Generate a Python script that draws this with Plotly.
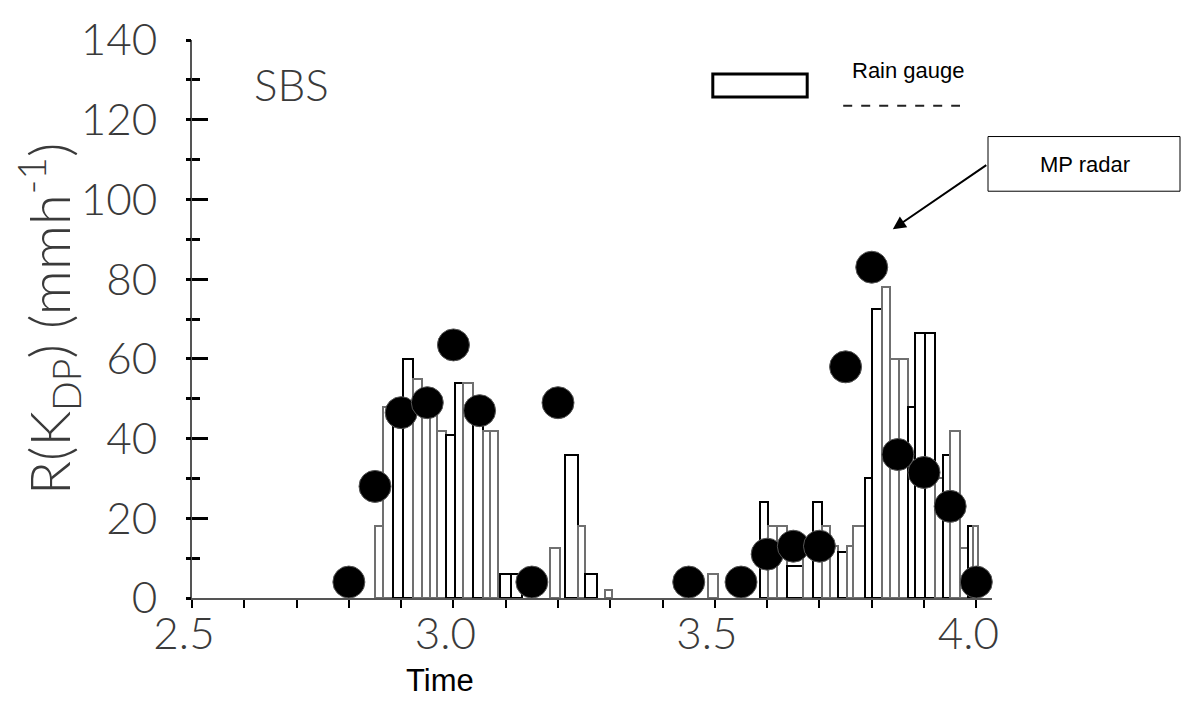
import plotly.graph_objects as go

# ---- data ----
radar_time = [2.80, 2.85, 2.90, 2.95, 3.00, 3.05, 3.15, 3.20, 3.45, 3.55,
              3.60, 3.65, 3.70, 3.75, 3.80, 3.85, 3.90, 3.95, 4.00]
radar_rate = [4, 28, 46.5, 49, 63.5, 47, 4, 49, 4, 4,
              11, 13, 13, 58, 83, 36, 31.5, 23, 4]

gauge_start = [2.850, 2.865, 2.884, 2.903, 2.923, 2.940, 2.955, 2.968, 2.986, 3.003,
               3.018, 3.037, 3.056, 3.070, 3.089, 3.110, 3.185, 3.213, 3.238, 3.251,
               3.290, 3.487, 3.586, 3.601, 3.619, 3.638, 3.668, 3.687, 3.705, 3.720,
               3.735, 3.752, 3.764, 3.787, 3.800, 3.819, 3.835, 3.852, 3.869, 3.882,
               3.902, 3.921, 3.936, 3.949, 3.968, 3.984, 3.993]
gauge_end = [2.865, 2.884, 2.903, 2.923, 2.940, 2.955, 2.968, 2.986, 3.003, 3.018,
             3.037, 3.056, 3.070, 3.085, 3.110, 3.131, 3.204, 3.238, 3.251, 3.274,
             3.303, 3.506, 3.601, 3.619, 3.638, 3.668, 3.687, 3.705, 3.720, 3.735,
             3.752, 3.764, 3.787, 3.800, 3.819, 3.835, 3.852, 3.869, 3.882, 3.902,
             3.921, 3.936, 3.949, 3.968, 3.984, 3.993, 4.003]
gauge_rate = [18, 48, 45, 60, 55, 50, 48, 42, 41, 54,
              54, 46, 42, 42, 6, 6, 12.5, 36, 18, 6,
              2, 6, 24, 18, 18, 8, 12, 24, 18, 13,
              11.5, 13, 18, 30, 72.5, 78, 60, 60, 48, 66.5,
              66.5, 30, 36, 42, 12.5, 18, 18]
gauge_id = ["B", "B", "A", "A", "B", "B", "B", "B", "A", "A",
            "B", "A", "B", "B", "A", "A", "B", "A", "B", "A",
            "B", "B", "A", "B", "B", "A", "B", "A", "B", "B",
            "A", "B", "B", "A", "A", "B", "B", "B", "A", "A",
            "A", "B", "A", "B", "B", "A", "B"]

x_ticks = [2.5, 3.0, 3.5, 4.0]
x_ticklabels = ["2.5", "3.0", "3.5", "4.0"]
y_ticks = [0, 20, 40, 60, 80, 100, 120, 140]

edge_colors = {"A": "#000000", "B": "#707070"}

centers = [(s + e) / 2 for s, e in zip(gauge_start, gauge_end)]
widths = [(e - s) for s, e in zip(gauge_start, gauge_end)]

fig = go.Figure()
fig.add_trace(go.Bar(
    x=centers, y=gauge_rate, width=widths,
    marker=dict(color="rgba(255,255,255,0)",
                line=dict(color=[edge_colors[g] for g in gauge_id], width=2)),
    showlegend=False, hoverinfo="skip"))
fig.add_trace(go.Scatter(
    x=radar_time, y=radar_rate, mode="markers",
    marker=dict(size=32, color="#000000", line=dict(width=1, color="#555")),
    cliponaxis=False, showlegend=False))
# invisible companion trace for the outer tick axis
fig.add_trace(go.Scatter(x=[radar_time[0]], y=[radar_rate[0]], yaxis="y2",
                         mode="markers", marker=dict(opacity=0),
                         showlegend=False, hoverinfo="skip"))

tick_font = dict(family="Lato", size=44, color="#3a3a3a", weight=300)

fig.update_layout(
    width=1185, height=716,
    margin=dict(l=192, r=193, t=38, b=118),
    paper_bgcolor="white", plot_bgcolor="white",
    bargap=0,
    xaxis=dict(range=[2.5, 4.03], tickvals=x_ticks, ticktext=x_ticklabels,
               ticks="outside", ticklen=8, tickwidth=2, tickcolor="#000",
               minor=dict(dtick=0.1, ticks="outside", ticklen=8, tickwidth=2, tickcolor="#000"),
               showline=True, linecolor="#555", linewidth=2,
               showgrid=False, zeroline=False, tickfont=tick_font,
               ticklabelstandoff=-12, ticklabelshift=-8),
    yaxis=dict(range=[0, 140], tickvals=y_ticks,
               ticks="inside", ticklen=16, tickwidth=3, tickcolor="#000",
               minor=dict(dtick=10, ticks="inside", ticklen=8, tickwidth=3, tickcolor="#000"),
               showline=True, linecolor="#555", linewidth=2,
               showgrid=False, zeroline=False, tickfont=tick_font,
               ticklabelstandoff=24),
    yaxis2=dict(range=[0, 140], overlaying="y", side="left", tickvals=y_ticks,
                ticks="outside", ticklen=5, tickwidth=3, tickcolor="#000",
                minor=dict(dtick=10, ticks="outside", ticklen=5, tickwidth=3, tickcolor="#000"),
                showticklabels=False, showline=False, showgrid=False, zeroline=False),
)

thin = dict(family="Lato", size=56, color="#3a3a3a", weight=300)
fig.add_annotation(text="R(K<sub>DP</sub>) (mmh<sup>-1</sup>)", textangle=-90,
                   xref="paper", yref="paper", x=-0.18, y=0.5,
                   xanchor="center", yanchor="middle",
                   showarrow=False, font=thin)
fig.add_annotation(text="Time", xref="paper", yref="paper", x=0.31, y=-0.148,
                   xanchor="center", yanchor="middle",
                   showarrow=False, font=dict(family="Liberation Sans", size=31, color="#000"))
fig.add_annotation(text="SBS", xref="paper", yref="paper", x=0.075, y=0.921,
                   xanchor="left", yanchor="middle", showarrow=False,
                   font=dict(family="Lato", size=44, color="#3a3a3a", weight=300))
# legend
fig.add_shape(type="rect", xref="paper", yref="paper", x0=0.651, x1=0.769, y0=0.898, y1=0.939,
              line=dict(color="#000", width=3), fillcolor="white")
fig.add_annotation(text="Rain gauge", xref="paper", yref="paper", x=0.8225, y=0.946,
                   xanchor="left", yanchor="middle", showarrow=False,
                   font=dict(family="Liberation Sans", size=22, color="#000"))
fig.add_shape(type="line", xref="paper", yref="paper", x0=0.814, x1=0.96, y0=0.882, y1=0.882,
              line=dict(color="#222", width=2, dash="dash"))
# MP radar callout
fig.add_shape(type="rect", xref="paper", yref="paper", x0=0.995, x1=1.235, y0=0.729, y1=0.827,
              line=dict(color="#000", width=1), fillcolor="white")
fig.add_annotation(text="MP radar", xref="paper", yref="paper", x=1.116, y=0.777,
                   xanchor="center", yanchor="middle",
                   showarrow=False, font=dict(family="Liberation Sans", size=22, color="#000"))
fig.add_annotation(text="", xref="paper", yref="paper", x=0.876, y=0.661,
                   ax=95, ay=-65, showarrow=True, arrowhead=2, arrowsize=1.3,
                   arrowwidth=2, arrowcolor="#000", standoff=0)

fig.write_html("out.html")
